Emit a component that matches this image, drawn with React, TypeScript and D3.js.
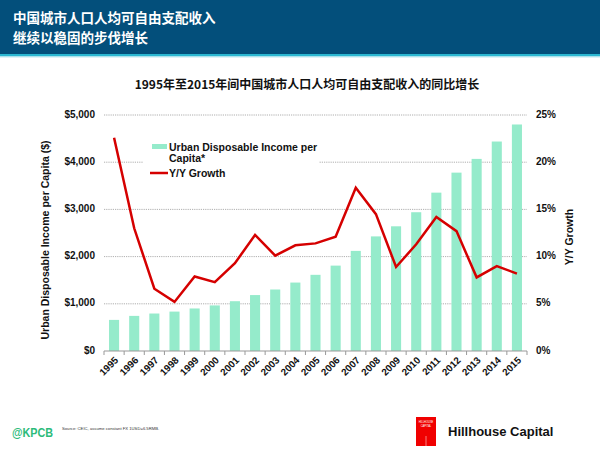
import React from "react";
import * as d3 from "d3";

const years = ["1995","1996","1997","1998","1999","2000","2001","2002","2003","2004","2005","2006","2007","2008","2009","2010","2011","2012","2013","2014","2015"];
const income = [659, 744, 794, 835, 901, 966, 1055, 1185, 1303, 1450, 1614, 1809, 2121, 2428, 2642, 2940, 3355, 3779, 4070, 4438, 4799];
const growth = [22.6, 13.0, 6.6, 5.2, 7.9, 7.3, 9.3, 12.3, 10.1, 11.2, 11.4, 12.1, 17.3, 14.5, 8.9, 11.3, 14.2, 12.7, 7.8, 9.0, 8.2];
const leftTicks = [0, 1000, 2000, 3000, 4000, 5000];
const rightTicks = [0, 5, 10, 15, 20, 25];

const W = 600, H = 449;
const L = 104, R = 527, T = 115, B = 351;
const FONT = "'Liberation Sans', Arial, Helvetica, sans-serif";
const CJK = "'Noto Sans CJK SC', 'Liberation Sans', sans-serif";

export default function App() {
  const x = d3.scaleBand<string>().domain(years).range([L, R]).paddingInner(0.5).paddingOuter(0.25);
  const yL = d3.scaleLinear().domain([0, 5000]).range([B, T]);
  const yR = d3.scaleLinear().domain([0, 25]).range([B, T]);
  const step = x.step();
  const cx = (d: string) => (x(d) as number) + x.bandwidth() / 2;
  const line = d3.line<number>().x((_, i) => cx(years[i])).y(d => yR(d));
  const fmt = d3.format("$,");

  return (
    <svg width={W} height={H} style={{ position: "absolute", left: 0, top: 0, background: "#fff" }}>
      <rect x={0} y={0} width={W} height={H} fill="#fff" />
      {/* header */}
      <rect x={0} y={0} width={W} height={54} fill="#034f7b" />
      <rect x={0} y={54} width={W} height={2.5} fill="#2bb7d1" />
      <rect x={0} y={56.5} width={W} height={1} fill="#bfe8f0" />
      <text x={13} y={23} fill="#fff" fontFamily={CJK} fontWeight="bold" fontSize={13.5}>中国城市人口人均可自由支配收入</text>
      <text x={13} y={42.5} fill="#fff" fontFamily={CJK} fontWeight="bold" fontSize={13.5}>继续以稳固的步伐增长</text>

      {/* chart title */}
      <text x={307} y={89} textAnchor="middle" fontFamily={CJK} fontWeight="bold" fontSize={12} fill="#111">1995年至2015年间中国城市人口人均可自由支配收入的同比增长</text>

      {/* grid */}
      {leftTicks.filter(t => t > 0).map(t => (
        <line key={t} x1={L} x2={R} y1={yL(t)} y2={yL(t)} stroke="#9a9a9a" strokeWidth={0.8} strokeDasharray="1.2,1" />
      ))}

      {/* bars */}
      {income.map((v, i) => (
        <rect key={years[i]} x={x(years[i])} y={yL(v)} width={x.bandwidth()} height={B - yL(v)} fill="#95ebcb" />
      ))}

      {/* legend */}
      <rect x={143} y={136} width={176} height={46} fill="#fff" />
      <rect x={152} y={144} width={15} height={5} fill="#95ebcb" />
      <text x={169} y={151} fontFamily={FONT} fontWeight="bold" fontSize={10.5} fill="#111">Urban Disposable Income per</text>
      <text x={169} y={162} fontFamily={FONT} fontWeight="bold" fontSize={10.5} fill="#111">Capita*</text>
      <line x1={150} x2={168} y1={173} y2={173} stroke="#d50000" strokeWidth={2.5} />
      <text x={169} y={177} fontFamily={FONT} fontWeight="bold" fontSize={10.5} fill="#111">Y/Y Growth</text>

      {/* growth line */}
      <path d={line(growth) || ""} fill="none" stroke="#d50000" strokeWidth={2.5} strokeLinejoin="miter" />

      {/* bottom axis */}
      <line x1={L} x2={R} y1={B} y2={B} stroke="#999" strokeWidth={1} />
      {d3.range(years.length + 1).map(i => (
        <line key={i} x1={L + i * step} x2={L + i * step} y1={B} y2={B + 4} stroke="#999" strokeWidth={1} />
      ))}
      {years.map(y => (
        <text key={y} transform={`translate(${cx(y) + 3},${B + 8}) rotate(-45)`} textAnchor="end" dominantBaseline="middle" fontFamily={FONT} fontWeight="bold" fontSize={9.8} fill="#111">{y}</text>
      ))}

      {/* left ticks */}
      {leftTicks.map(t => (
        <text key={t} x={95} y={yL(t)} textAnchor="end" dominantBaseline="middle" fontFamily={FONT} fontWeight="bold" fontSize={10} fill="#111">{fmt(t)}</text>
      ))}
      {rightTicks.map(t => (
        <text key={t} x={536} y={yR(t)} textAnchor="start" dominantBaseline="middle" fontFamily={FONT} fontWeight="bold" fontSize={10} fill="#111">{t + "%"}</text>
      ))}

      <text transform={`translate(49,240) rotate(-90)`} textAnchor="middle" fontFamily={FONT} fontWeight="bold" fontSize={10.5} fill="#111">Urban Disposable Income per Capita ($)</text>
      <text transform={`translate(573,237) rotate(-90)`} textAnchor="middle" fontFamily={FONT} fontWeight="bold" fontSize={10.5} fill="#111">Y/Y Growth</text>

      {/* footer */}
      <text x={12} y={437} fontFamily={FONT} fontWeight="bold" fontSize={12.5} fill="#2dbb7a" textLength={41} lengthAdjust="spacingAndGlyphs">@KPCB</text>
      <text x={62} y={430} fontFamily={FONT} fontSize={4.2} fill="#333">Source: CEIC, assume constant FX 1USD=6.5RMB.</text>
      <rect x={416} y={417} width={20} height={29} fill="#f00000" />
      <text x={426} y={423} textAnchor="middle" fontFamily={FONT} fontSize={2.6} fill="#fff">HILLHOUSE</text>
      <text x={426} y={426.5} textAnchor="middle" fontFamily={FONT} fontSize={2.6} fill="#fff">CAPITAL</text>
      <line x1={426} x2={426} y1={436} y2={446} stroke="#fff" strokeWidth={0.5} />
      <text x={448} y={436} fontFamily={FONT} fontWeight="bold" fontSize={13} fill="#111">Hillhouse Capital</text>
    </svg>
  );
}
